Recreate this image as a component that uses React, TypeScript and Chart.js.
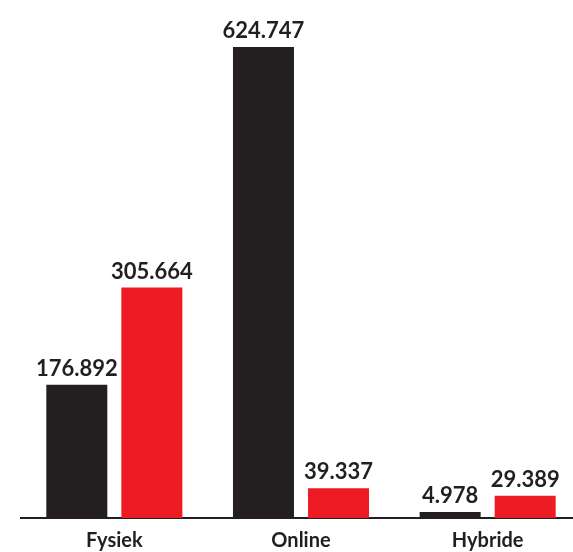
import React, { useEffect, useRef } from "react";
import { Chart, registerables } from "chart.js";

Chart.register(...registerables);

const categories = ["Fysiek", "Online", "Hybride"];
const seriesBlack = [176892, 624747, 4978];
const seriesRed = [305664, 39337, 29389];

const INK = "#231f20";
const RED = "#ed1c24";
const FONT = "Lato, 'Noto Sans', sans-serif";

const fmt = (v: number) => String(v).replace(/\B(?=(\d{3})+(?!\d))/g, ".");

const valueLabels = {
  id: "valueLabels",
  afterDatasetsDraw(chart: any) {
    const ctx = chart.ctx;
    ctx.save();
    ctx.font = `bold 22px ${FONT}`;
    ctx.fillStyle = INK;
    ctx.textAlign = "center";
    ctx.textBaseline = "alphabetic";
    chart.data.datasets.forEach((ds: any, di: number) => {
      const meta = chart.getDatasetMeta(di);
      meta.data.forEach((el: any, i: number) => {
        ctx.fillText(fmt(ds.data[i]), el.x, el.y - 9);
      });
    });
    ctx.restore();
  },
};

export default function App() {
  const ref = useRef<HTMLCanvasElement>(null);
  useEffect(() => {
    const chart = new Chart(ref.current!, {
      type: "bar",
      data: {
        labels: categories,
        datasets: [
          { data: seriesBlack, backgroundColor: INK, minBarLength: 6 },
          { data: seriesRed, backgroundColor: RED },
        ],
      },
      options: {
        animation: false,
        responsive: false,
        maintainAspectRatio: false,
        categoryPercentage: 0.804,
        barPercentage: 0.813,
        layout: { padding: { top: 47, left: 21, right: 9, bottom: 3 } },
        plugins: { legend: { display: false }, tooltip: { enabled: false } },
        scales: {
          x: {
            grid: { display: false, drawTicks: false },
            border: { display: true, color: INK, width: 2 },
            ticks: { color: INK, font: { family: FONT, size: 20, weight: "bold" }, padding: 11 },
          },
          y: {
            display: false,
            min: 0,
            max: Math.max(...seriesBlack, ...seriesRed),
          },
        },
      },
      plugins: [valueLabels],
    });
    return () => chart.destroy();
  }, []);
  return (
    <div style={{ position: "fixed", left: 0, top: 0, width: 573, height: 552, overflow: "hidden", background: "#fff" }}>
      <canvas ref={ref} width={590} height={567} style={{ width: 590, height: 567, display: "block" }} />
    </div>
  );
}
